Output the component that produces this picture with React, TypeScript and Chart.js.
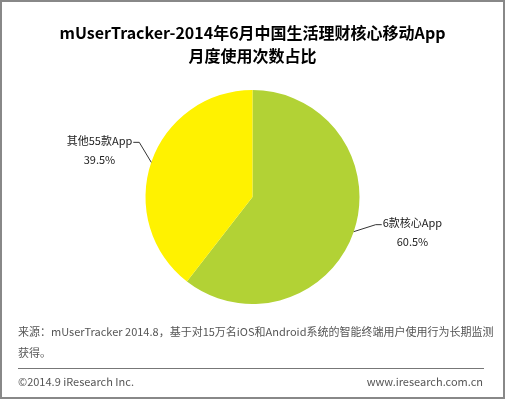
import React, { useEffect, useRef } from "react";
import { Chart, registerables } from "chart.js";

Chart.register(...registerables);

const titleLines = ["mUserTracker-2014年6月中国生活理财核心移动App", "月度使用次数占比"];
const categories = ["6款核心App", "其他55款App"];
const values = [60.5, 39.5];
const valueLabels = ["60.5%", "39.5%"];
const sliceColors = ["#b2d235", "#fff200"];
const sourceLines = ["来源：mUserTracker 2014.8，基于对15万名iOS和Android系统的智能终端用户使用行为长期监测", "获得。"];
const copyright = "©2014.9 iResearch Inc.";
const website = "www.iresearch.com.cn";

const FONT = "'Noto Sans CJK SC', 'Noto Sans', sans-serif";

// leader line geometry per slice: elbow offset from anchor, horizontal run
const leaderOpts = [
  { ex: 22, ey: -7, run: 6 },
  { ex: -12, ey: -20, run: -6 },
];

const labelPlugin = {
  id: "leaderLabels",
  afterDatasetsDraw(chart: any) {
    const ctx = chart.ctx;
    const meta = chart.getDatasetMeta(0);
    meta.data.forEach((arc: any, i: number) => {
      const p = arc.getProps(["x", "y", "startAngle", "endAngle", "outerRadius"], true);
      const a = (p.startAngle + p.endAngle) / 2;
      const ax = p.x + Math.cos(a) * p.outerRadius;
      const ay = p.y + Math.sin(a) * p.outerRadius;
      const o = leaderOpts[i];
      const bx = ax + o.ex;
      const by = ay + o.ey;
      const cx = bx + o.run;
      ctx.save();
      ctx.strokeStyle = "#333";
      ctx.lineWidth = 1;
      ctx.beginPath();
      ctx.moveTo(ax, ay);
      ctx.lineTo(bx, by);
      ctx.lineTo(cx, by);
      ctx.stroke();
      ctx.font = `11px ${FONT}`;
      ctx.fillStyle = "#222";
      ctx.textBaseline = "middle";
      const w1 = ctx.measureText(categories[i]).width;
      const left = o.run > 0 ? cx + 1 : cx - 1 - w1;
      const mid = left + w1 / 2;
      ctx.textAlign = "center";
      ctx.fillText(categories[i], mid, by - 2);
      ctx.fillText(valueLabels[i], mid, by + 17);
      ctx.restore();
    });
  },
};

export default function App() {
  const ref = useRef<HTMLCanvasElement | null>(null);
  useEffect(() => {
    if (!ref.current) return;
    const chart = new Chart(ref.current, {
      type: "pie",
      data: {
        labels: categories,
        datasets: [
          {
            data: values,
            backgroundColor: sliceColors,
            borderWidth: 0,
          },
        ],
      },
      options: {
        animation: false,
        responsive: false,
        layout: { padding: { top: 90, bottom: 95, left: 0, right: 0 } },
        plugins: {
          legend: { display: false },
          tooltip: { enabled: false },
          title: { display: false },
        },
      },
      plugins: [labelPlugin],
    });
    return () => chart.destroy();
  }, []);

  return (
    <div
      style={{
        position: "absolute",
        left: 0,
        top: 0,
        width: 505,
        height: 399,
        background: "#fff",
        boxSizing: "border-box",
        border: "2px solid #888",
        overflow: "hidden",
        fontFamily: FONT,
      }}
    >
      <canvas
        ref={ref}
        width={505}
        height={399}
        style={{ position: "absolute", left: -2, top: -2, width: 505, height: 399 }}
      />
      <div
        style={{
          position: "absolute",
          left: 0,
          top: 19,
          width: 501,
          textAlign: "center",
          fontWeight: "bold",
          fontSize: 16,
          lineHeight: "23px",
          color: "#000",
        }}
      >
        {titleLines.map((t, i) => (
          <div key={i}>{t}</div>
        ))}
      </div>
      <div
        style={{
          position: "absolute",
          left: 16,
          top: 319,
          width: 480,
          fontSize: 11,
          lineHeight: "21px",
          color: "#555",
          whiteSpace: "nowrap",
        }}
      >
        {sourceLines.map((t, i) => (
          <div key={i}>{t}</div>
        ))}
      </div>
      <div
        style={{
          position: "absolute",
          left: 16,
          top: 366,
          width: 466,
          borderTop: "1px solid #777",
        }}
      />
      <div
        style={{
          position: "absolute",
          left: 16,
          top: 371,
          fontSize: 11,
          lineHeight: "16px",
          color: "#555",
        }}
      >
        {copyright}
      </div>
      <div
        style={{
          position: "absolute",
          right: 20,
          top: 371,
          fontSize: 11,
          lineHeight: "16px",
          color: "#555",
        }}
      >
        {website}
      </div>
    </div>
  );
}
